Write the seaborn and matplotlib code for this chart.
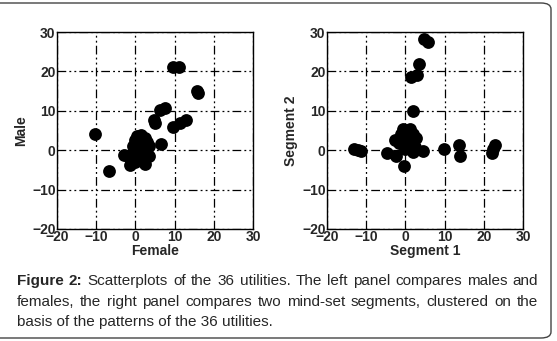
import matplotlib
matplotlib.use('Agg')
import matplotlib.pyplot as plt
import pandas as pd
import seaborn as sns
from matplotlib.patches import FancyBboxPatch

# 36 utilities, female vs male
female = [-10.4, -6.8, 9.5, 11.0, 15.6, 16.0, 6.2, 7.5, 4.8, 5.1, 13.0, 11.3, 9.6, 6.5,
          0.5, 1.5, 2.5, 3.0, 0.0, 1.0, 2.0, 3.5, -0.5, 0.5, 1.5, 2.5, 3.5,
          -3.0, -2.0, -1.0, 0.5, 1.5, -1.5, 2.5, 0.0, 1.0]
male = [4.1, -5.2, 21.2, 21.2, 15.0, 14.4, 10.2, 10.8, 7.6, 6.8, 7.6, 6.8, 5.8, 1.7,
        3.5, 3.8, 3.0, 2.0, 2.5, 2.0, 1.5, 1.0, 1.0, 0.5, 0.0, -0.5, -1.5,
        -1.3, -1.5, -2.0, -1.5, -2.0, -3.8, -3.5, -3.0, -1.0]

# 36 utilities, mind-set segment 1 vs segment 2
seg1 = [4.7, 5.8, 3.5, 1.5, 3.0, 2.0, -13.2, -12.1, -11.4, -4.7, -2.3, -0.3, 9.8,
        13.7, 13.9, 22.9, 22.0, 22.4, 4.4, 2.0,
        -0.6, 1.1, -2.7, -1.6, 2.8, 2.0, 0.3, 1.5, 0.3, 2.4, -0.6, 1.1, 0.7, -1.0, 2.0, -0.2]
seg2 = [28.2, 27.4, 22.0, 18.5, 19.1, 10.0, 0.3, 0.0, -0.2, -0.6, -1.4, -4.0, 0.4,
        1.3, -1.4, 1.3, -0.6, 0.3, -0.2, -0.4,
        5.3, 5.5, 2.6, 1.8, 3.0, 4.0, 3.6, 1.5, 1.1, 0.7, 2.4, 2.8, 4.4, 4.0, 2.4, 0.3]

ticks = [-20, -10, 0, 10, 20, 30]

sns.set_style('white')
plt.rcParams['font.family'] = ['Liberation Sans', 'DejaVu Sans']

fig = plt.figure(figsize=(5.57, 3.41), dpi=100)

border = FancyBboxPatch((-0.02, 3 / 341), 551 / 557 + 0.02, 335 / 341,
                        boxstyle='round,pad=0,rounding_size=0.018',
                        transform=fig.transFigure, facecolor='none',
                        edgecolor='#444444', linewidth=1.0, zorder=5)
fig.patches.append(border)

panels = [
    (57 / 557, female, male, 'Female', 'Male'),
    (327 / 557, seg1, seg2, 'Segment 1', 'Segment 2'),
]

for left, xs, ys, xl, yl in panels:
    ax = fig.add_axes([left, 1 - 229 / 341, 196 / 557, 197 / 341])
    df = pd.DataFrame({xl: xs, yl: ys})
    sns.scatterplot(data=df, x=xl, y=yl, ax=ax, color='black', s=85,
                    linewidth=0, zorder=3)
    ax.set_xlim(-20, 30)
    ax.set_ylim(-20, 30)
    ax.set_xticks(ticks)
    ax.set_yticks(ticks)
    ax.set_axisbelow(True)
    ax.grid(True, color='black', linewidth=0.9,
            linestyle=(0, (7, 2.5, 1.5, 2.5, 1.5, 2.5)))
    for sp in ax.spines.values():
        sp.set_color('black')
        sp.set_linewidth(1.0)
    ax.tick_params(length=0, pad=1, labelsize=10)
    for lab in ax.get_xticklabels() + ax.get_yticklabels():
        lab.set_fontweight('bold')
    ax.set_xlabel(xl, fontsize=10, fontweight='bold', labelpad=0)
    ax.set_ylabel(yl, fontsize=10, fontweight='bold', labelpad=3)

# caption, justified like the journal layout
line1 = [('Figure', 'bold'), ('2:', 'bold')] + [(w, 'normal') for w in
         'Scatterplots of the 36 utilities. The left panel compares males and'.split()]
line2 = [(w, 'normal') for w in
         'females, the right panel compares two mind-set segments, clustered on the'.split()]
line3 = 'basis of the patterns of the 36 utilities.'

x0, x1 = 17, 538
fs = 11
renderer = fig.canvas.get_renderer()
for words, ybase in [(line1, 285), (line2, 306)]:
    txts = [fig.text(0, 1 - ybase / 341, w, fontsize=fs, fontweight=wt,
                     va='baseline', ha='left') for w, wt in words]
    widths = [t.get_window_extent(renderer).width for t in txts]
    gap = (x1 - x0 - sum(widths)) / (len(txts) - 1)
    pos = x0
    for t, w in zip(txts, widths):
        t.set_x(pos / 557)
        pos += w + gap
fig.text(x0 / 557, 1 - 326 / 341, line3, fontsize=fs, va='baseline', ha='left')

fig.savefig('out.png', dpi=100)
